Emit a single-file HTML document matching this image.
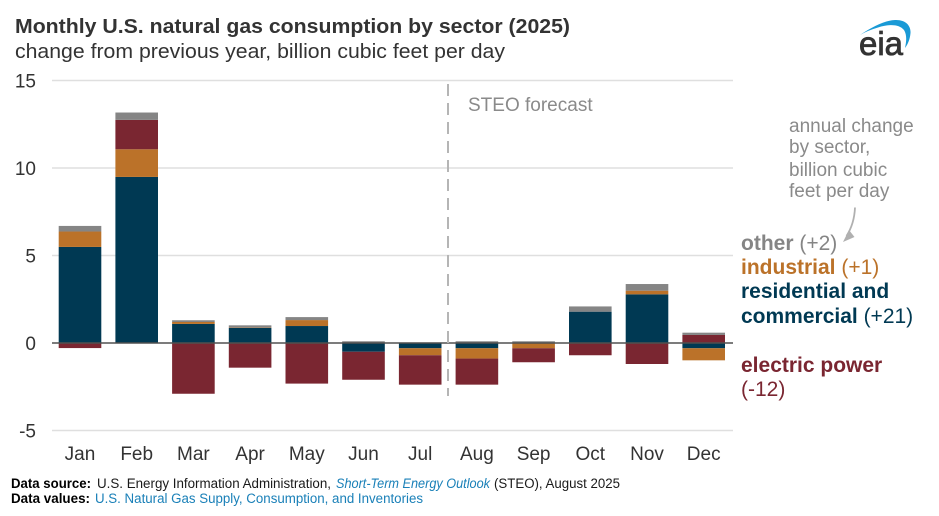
<!DOCTYPE html>
<html lang="en">
<head>
<meta charset="utf-8">
<title>Monthly U.S. natural gas consumption by sector (2025)</title>
<style>
html,body{margin:0;padding:0;background:#fff;width:939px;height:516px;overflow:hidden}
svg{display:block;font-family:"Liberation Sans",Arial,sans-serif}
</style>
</head>
<body>
<svg id="chart" width="939" height="516" viewBox="0 0 939 516">
  <rect width="939" height="516" fill="#ffffff"/>
  <text x="15" y="33" font-size="20" font-weight="700" fill="#333333" textLength="555" lengthAdjust="spacingAndGlyphs">Monthly U.S. natural gas consumption by sector (2025)</text>
  <text x="15" y="58" font-size="20" fill="#333333" textLength="490" lengthAdjust="spacingAndGlyphs">change from previous year, billion cubic feet per day</text>

  <g id="grid"></g>
  <g id="yticks"></g>
  <g id="bars"></g>
  <g id="xticks"></g>

  <line x1="448" y1="84" x2="448" y2="396" stroke="#b5b5b5" stroke-width="2" stroke-dasharray="12 7"/>
  <text x="468" y="111" font-size="19" fill="#8a8a8a">STEO forecast</text>

  <g fill="#8a8a8a" font-size="19">
    <text x="789" y="132">annual change</text>
    <text x="789" y="153">by sector,</text>
    <text x="789" y="176">billion cubic</text>
    <text x="789" y="197">feet per day</text>
  </g>
  <path d="M855 207.500 C854.500 219 851 229 846.500 236" fill="none" stroke="#b0b0b0" stroke-width="1.800"/>
  <path d="M843 242 L849 230 L854.500 237 Z" fill="#b0b0b0"/>

  <g font-size="21">
    <text x="741" y="250" fill="#858585"><tspan font-weight="700">other</tspan> (+2)</text>
    <text x="741" y="274" fill="#bb7229"><tspan font-weight="700">industrial</tspan> (+1)</text>
    <text x="741" y="298" fill="#003953" font-weight="700">residential and</text>
    <text x="741" y="323" fill="#003953"><tspan font-weight="700">commercial</tspan> (+21)</text>
    <text x="741" y="372" fill="#7a2631" font-weight="700">electric power</text>
    <text x="741" y="396" fill="#7a2631">(-12)</text>
  </g>

  <g>
    <path d="M860 35 C872 27 884 20.500 895 20 C906 19.500 911 26 910.500 33 C910 39 908 44 905 48 C906.500 41 907 35 904 30 C899 24 889 24 878 27.500 C871 29.500 865 32 860 35 Z" fill="#1a9ad6"/>
    <text x="859" y="55" font-size="33" fill="#333333" stroke="#333333" stroke-width="0.800" textLength="44" lengthAdjust="spacingAndGlyphs">eia</text>
  </g>

  <g font-size="13.500">
    <text x="11" y="488" font-weight="700" fill="#000000" textLength="80" lengthAdjust="spacingAndGlyphs">Data source:</text>
    <text x="97" y="488" fill="#1a1a1a" textLength="234" lengthAdjust="spacingAndGlyphs">U.S. Energy Information Administration,</text>
    <text x="336" y="488" fill="#1a80b8" font-style="italic" textLength="154" lengthAdjust="spacingAndGlyphs">Short-Term Energy Outlook</text>
    <text x="494" y="488" fill="#1a1a1a" textLength="126" lengthAdjust="spacingAndGlyphs">(STEO), August 2025</text>
    <text x="11" y="503" font-weight="700" fill="#000000" textLength="79" lengthAdjust="spacingAndGlyphs">Data values:</text>
    <text x="95" y="503" fill="#1a80b8" textLength="328" lengthAdjust="spacingAndGlyphs">U.S. Natural Gas Supply, Consumption, and Inventories</text>
  </g>
</svg>
<script>
const months = ['Jan','Feb','Mar','Apr','May','Jun','Jul','Aug','Sep','Oct','Nov','Dec'];
const yTicks = [15,10,5,0,-5];
const residential = [5.49,9.49,1.09,0.86,0.97,-0.50,-0.30,-0.30,0.00,1.79,2.78,-0.30];
const industrial = [0.88,1.58,0.11,0.02,0.34,0.00,-0.40,-0.59,-0.30,0.00,0.21,-0.69];
const electricPower = [-0.29,1.68,-2.90,-1.41,-2.32,-1.60,-1.68,-1.49,-0.80,-0.70,-1.20,0.46];
const other = [0.32,0.42,0.10,0.13,0.17,0.10,0.03,0.10,0.10,0.30,0.38,0.13];

const NS = 'http://www.w3.org/2000/svg';
const yScale = v => 343 - v * 17.5;
const xScale = i => 80 + i * 56.7;
const barWidth = 42.6;

function svgEl(tag, attrs, parent) {
  const el = document.createElementNS(NS, tag);
  Object.keys(attrs).forEach(k => el.setAttribute(k, attrs[k]));
  parent.appendChild(el);
  return el;
}

const gridG = document.getElementById('grid');
const yG = document.getElementById('yticks');
const barsG = document.getElementById('bars');
const xG = document.getElementById('xticks');

yTicks.forEach(t => {
  if (t !== 0) {
    const gl = svgEl('line', {x1: 52, x2: 733, y1: yScale(t), y2: yScale(t), stroke: '#dfdfdf', 'stroke-width': 1.5}, gridG);
    
    
  }
  const lab = svgEl('text', {x: 36, y: yScale(t) + 7, 'text-anchor': 'end', 'font-size': 19, fill: '#333333'}, yG);
  lab.textContent = t;
  
  
});

const sectors = [
  {key: 'residential', values: residential, color: '#003953'},
  {key: 'industrial', values: industrial, color: '#bb7229'},
  {key: 'electric-power', values: electricPower, color: '#7a2631'},
  {key: 'other', values: other, color: '#858585'}
];

months.forEach((m, i) => {
  let pos = 0, neg = 0;
  sectors.forEach(s => {
    const v = s.values[i];
    if (!v) return;
    let a, b;
    if (v > 0) { a = pos; b = pos + v; pos = b; }
    else { a = neg; b = neg + v; neg = b; }
    const top = yScale(Math.max(a, b));
    const h = Math.abs(yScale(a) - yScale(b));
    const r = svgEl('rect', {x: xScale(i) - barWidth / 2, y: top, width: barWidth, height: h, fill: s.color}, barsG);
    
    
  });
  const lab = svgEl('text', {x: xScale(i), y: 460, 'text-anchor': 'middle', 'font-size': 19, fill: '#333333'}, xG);
  lab.textContent = m;
  
  
});

const zero = svgEl('line', {x1: 52, x2: 733, y1: yScale(0), y2: yScale(0), stroke: '#505050', 'stroke-width': 1.6}, barsG);


</script>
</body>
</html>
